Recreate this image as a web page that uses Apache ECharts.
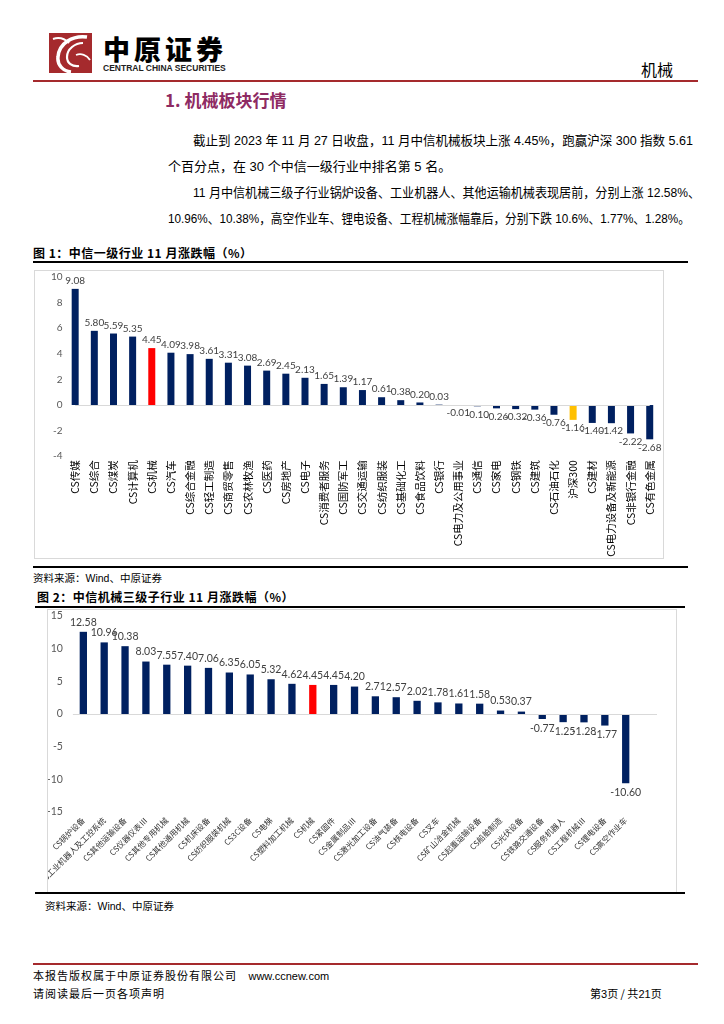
<!DOCTYPE html>
<html><head><meta charset="utf-8">
<script src="https://cdn.jsdelivr.net/npm/echarts@6/dist/echarts.min.js"></script>
<style>
html,body{margin:0;padding:0;background:#fff;}
body{width:724px;height:1024px;position:relative;overflow:hidden;font-family:"Liberation Sans","Noto Sans CJK SC",sans-serif;color:#000;}
.abs{position:absolute;white-space:nowrap;}
.para{font-size:13px;line-height:18px;font-family:"Liberation Sans","Noto Sans CJK SC",sans-serif;transform-origin:left center;}
.ftitle{font-size:12px;line-height:16px;font-weight:bold;font-family:"Noto Sans CJK SC",sans-serif;letter-spacing:0.5px;}
.src{font-size:10.5px;line-height:14px;font-family:"Liberation Sans","Noto Sans CJK SC",sans-serif;}
.bline{position:absolute;height:2px;background:#000;}
.box{position:absolute;border:1px solid #d9d9d9;box-sizing:border-box;pointer-events:none;}
.foot{font-size:11px;line-height:14px;letter-spacing:1px;font-family:"Noto Sans CJK SC",sans-serif;}
</style></head><body>

<svg class="abs" style="left:49px;top:33px" width="43" height="40" viewBox="0 0 43 40">
  <rect x="0" y="0" width="43" height="40" fill="#A52A2D"/>
  <path d="M38 4 C24 2 10 10 9 24 C8 32 14 38 22 39" stroke="#fff" stroke-width="3.5" fill="none"/>
  <path d="M34 10 C26 10 18 16 18 24 C18 30 23 34 30 33" stroke="#fff" stroke-width="2.2" fill="none"/>
  <path d="M4 6 C10 4 16 6 20 10" stroke="#fff" stroke-width="2" fill="none"/>
  <path d="M27 22 C32 20 38 22 41 27" stroke="#fff" stroke-width="1.8" fill="none"/>
</svg>
<div class="abs" style="left:103px;top:34px;font-size:27px;line-height:30px;font-weight:900;letter-spacing:4px;font-family:'Noto Sans CJK SC',sans-serif;">中原证券</div>
<div class="abs" style="left:103px;top:63px;font-size:8.5px;line-height:10px;font-weight:bold;color:#222;">CENTRAL CHINA SECURITIES</div>
<div class="abs" style="left:641px;top:60px;font-size:16px;line-height:18px;font-family:'Noto Sans CJK SC',sans-serif;">机械</div>
<div class="abs" style="left:33px;top:80px;width:665px;height:2px;background:#A52A2D;"></div>

<div class="abs" style="left:165px;top:90px;font-size:17px;line-height:20px;font-weight:bold;color:#8E2A62;font-family:'Noto Sans CJK SC',sans-serif;">1. 机械板块行情</div>

<div class="abs para" data-w="500" style="left:193px;top:132px;">截止到 2023 年 11 月 27 日收盘，11 月中信机械板块上涨 4.45%，跑赢沪深 300 指数 5.61</div>
<div class="abs para" style="left:168px;top:158px;">个百分点，在 30 个中信一级行业中排名第 5 名。</div>
<div class="abs para" data-w="507" style="left:193px;top:184px;">11 月中信机械三级子行业锅炉设备、工业机器人、其他运输机械表现居前，分别上涨 12.58%、</div>
<div class="abs para" data-w="522" style="left:168px;top:210px;">10.96%、10.38%，高空作业车、锂电设备、工程机械涨幅靠后，分别下跌 10.6%、1.77%、1.28%。</div>

<div class="abs ftitle" style="left:33px;top:245px;">图 1：中信一级行业 11 月涨跌幅（%）</div>
<div class="bline" style="left:33px;top:261px;width:655px;"></div>
<div id="c1" class="abs" style="left:34px;top:270px;width:630px;height:289px;"></div>
<div class="box" style="left:34px;top:270px;width:630px;height:289px;"></div>
<div class="bline" style="left:33px;top:566px;width:655px;"></div>
<div class="abs src" style="left:33px;top:571px;">资料来源：Wind、中原证券</div>

<div class="abs ftitle" style="left:37px;top:589px;">图 2：中信机械三级子行业 11 月涨跌幅（%）</div>
<div class="bline" style="left:35px;top:606px;width:650px;"></div>
<div id="c2" class="abs" style="left:47px;top:609px;width:630px;height:283px;"></div>
<div class="box" style="left:47px;top:609px;width:630px;height:284px;"></div>
<div class="bline" style="left:35px;top:892px;width:650px;"></div>
<div class="abs src" style="left:45px;top:899px;">资料来源：Wind、中原证券</div>

<div class="abs" style="left:33px;top:963px;width:665px;height:2px;background:#A52A2D;"></div>
<div class="abs foot" style="left:33px;top:968px;">本报告版权属于中原证券股份有限公司 <span style="font-family:'Liberation Sans';letter-spacing:0;margin-left:8px;">www.ccnew.com</span></div>
<div class="abs foot" style="left:33px;top:986px;">请阅读最后一页各项声明</div>
<div class="abs foot" style="left:590px;top:986px;letter-spacing:0;">第<span style="font-family:'Liberation Sans';">3</span>页 / 共<span style="font-family:'Liberation Sans';">21</span>页</div>

<script>
// Chart 1 data
const cats1 = ['CS传媒','CS综合','CS煤炭','CS计算机','CS机械','CS汽车','CS综合金融','CS轻工制造','CS商贸零售','CS农林牧渔','CS医药','CS房地产','CS电子','CS消费者服务','CS国防军工','CS交通运输','CS纺织服装','CS基础化工','CS食品饮料','CS银行','CS电力及公用事业','CS通信','CS家电','CS钢铁','CS建筑','CS石油石化','沪深300','CS建材','CS电力设备及新能源','CS非银行金融','CS有色金属'];
const vals1 = [9.08,5.80,5.59,5.35,4.45,4.09,3.98,3.61,3.31,3.08,2.69,2.45,2.13,1.65,1.39,1.17,0.61,0.38,0.20,0.03,-0.01,-0.10,-0.26,-0.32,-0.36,-0.76,-1.16,-1.40,-1.42,-2.22,-2.68];
const ticks1 = [-4,-2,0,2,4,6,8,10];

// Chart 2 data
const cats2 = ['CS锅炉设备','CS工业机器人及工控系统','CS其他运输设备','CS仪器仪表Ⅲ','CS其他专用机械','CS其他通用机械','CS机床设备','CS纺织服装机械','CS3C设备','CS电梯','CS塑料加工机械','CS机械','CS紧固件','CS金属制品Ⅲ','CS激光加工设备','CS油气装备','CS核电设备','CS叉车','CS矿山冶金机械','CS起重运输设备','CS船舶制造','CS光伏设备','CS铁路交通设备','CS服务机器人','CS工程机械Ⅲ','CS锂电设备','CS高空作业车'];
const vals2 = [12.58,10.96,10.38,8.03,7.55,7.40,7.06,6.35,6.05,5.32,4.62,4.45,4.45,4.20,2.71,2.57,2.02,1.78,1.61,1.58,0.53,0.37,-0.77,-1.25,-1.28,-1.77,-10.60];
const ticks2 = [-15,-10,-5,0,5,10,15];

// fit paragraph lines to their measured widths in the reference
document.querySelectorAll('.para[data-w]').forEach(el => {
  const w = el.getBoundingClientRect().width;
  el.style.transform = 'scaleX(' + (Number(el.dataset.w) / w) + ')';
});

const NAVY = '#002060', RED = '#FF0000', GOLD = '#FFC000';
const numFont = 'Lato, "Liberation Sans", sans-serif';

function barData(cats, vals, dist) {
  return vals.map((v, i) => ({
    value: v,
    itemStyle: { color: cats[i] === 'CS机械' ? RED : (cats[i] === '沪深300' ? GOLD : NAVY) },
    label: { position: v < 0 ? 'bottom' : 'top', distance: dist }
  }));
}

const c1 = echarts.init(document.getElementById('c1'), null, {renderer: 'canvas'});
c1.setOption({
  animation: false,
  grid: { left: 31.6, top: 7.1, width: 593.7, height: 179.1, containLabel: false, outerBoundsMode: 'none' },
  xAxis: {
    type: 'category', data: cats1,
    axisLine: { show: false, onZero: false }, axisTick: { show: false },
    axisLabel: { interval: 0, rotate: 90, margin: 4, fontSize: 10.5, color: '#000', fontFamily: '"Noto Sans CJK SC", sans-serif' }
  },
  yAxis: {
    type: 'value', min: ticks1[0], max: ticks1[ticks1.length - 1], interval: 2,
    axisLine: { show: false }, axisTick: { show: false }, splitLine: { show: false },
    axisLabel: { margin: 3, fontSize: 10, color: '#595959', fontFamily: numFont }
  },
  series: [{
    type: 'bar', data: barData(cats1, vals1, 3), barWidth: 7,
    label: { show: true, fontSize: 10, color: '#404040', fontFamily: numFont, formatter: p => p.value.toFixed(2) },
    markLine: {
      silent: true, symbol: 'none', label: { show: false },
      lineStyle: { color: '#d9d9d9', type: 'solid', width: 1 },
      data: [[{ coord: [cats1[0], 0] }, { coord: [cats1[cats1.length - 1], 0] }]]
    }
  }]
});

const c2 = echarts.init(document.getElementById('c2'), null, {renderer: 'canvas'});
c2.setOption({
  animation: false,
  grid: { left: 25.9, top: 7, width: 584.1, height: 196, containLabel: false, outerBoundsMode: 'none' },
  xAxis: {
    type: 'category', data: cats2.concat(['']),
    axisLine: { show: false, onZero: false }, axisTick: { show: false },
    axisLabel: { interval: 0, rotate: 45, margin: 7, fontSize: 8, color: '#333', fontFamily: '"Noto Sans CJK SC", sans-serif' }
  },
  yAxis: {
    type: 'value', min: ticks2[0], max: ticks2[ticks2.length - 1], interval: 5,
    axisLine: { show: false }, axisTick: { show: false }, splitLine: { show: false },
    axisLabel: { margin: 10, fontSize: 10.5, color: '#595959', fontFamily: numFont }
  },
  series: [{
    type: 'bar', data: barData(cats2, vals2, 4), barWidth: 7.3,
    label: { show: true, fontSize: 10.5, color: '#404040', fontFamily: numFont, formatter: p => p.value.toFixed(2) },
    markLine: {
      silent: true, symbol: 'none', label: { show: false },
      lineStyle: { color: '#d9d9d9', type: 'solid', width: 1 },
      data: [{ yAxis: 0 }]
    }
  }]
});
</script>
</body></html>
